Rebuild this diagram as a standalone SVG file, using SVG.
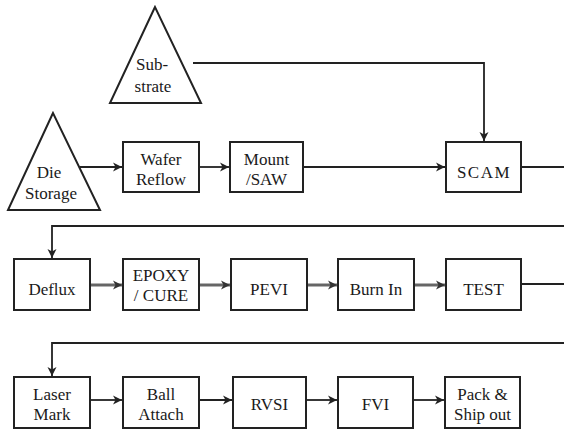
<svg xmlns="http://www.w3.org/2000/svg" width="564" height="430" viewBox="0 0 564 430">
<style>
  .box { fill: #fff; stroke: #222; stroke-width: 2; }
  .tri { fill: #fff; stroke: #222; stroke-width: 2; stroke-linejoin: miter; }
  .t { font-size: 17px; fill: #1a1a1a; text-anchor: middle; }
  .c { fill: none; stroke: #222; stroke-width: 1.8; }
  .cg { fill: none; stroke: #666; stroke-width: 3; }
</style>
<defs>
  <marker id="ah" markerUnits="userSpaceOnUse" markerWidth="10" markerHeight="10" refX="9" refY="5" orient="auto">
    <path d="M0,0.5 L9,5 L0,9.5 L2.5,5 z" fill="#222"/>
  </marker>
  <marker id="ahg" markerUnits="userSpaceOnUse" markerWidth="10" markerHeight="10" refX="9" refY="5" orient="auto">
    <path d="M0,0.5 L9,5 L0,9.5 L2.5,5 z" fill="#333"/>
  </marker>
</defs>
<rect width="564" height="430" fill="#fff"/>

<g id="connectors">
  <polyline class="c" points="193,63 484,63 484,141" marker-end="url(#ah)"/>
  <line class="c" x1="80" y1="167" x2="122" y2="167" marker-end="url(#ah)"/>
  <line class="c" x1="199" y1="167" x2="229" y2="167" marker-end="url(#ah)"/>
  <line class="c" x1="303" y1="167" x2="445" y2="167" marker-end="url(#ah)"/>
  <line class="c" x1="521" y1="167" x2="564" y2="167"/>
  <polyline class="c" points="564,226 52,226 52,258" marker-end="url(#ah)"/>
  <line class="cg" x1="90" y1="285" x2="122" y2="285" marker-end="url(#ahg)"/>
  <line class="cg" x1="199" y1="285" x2="230" y2="285" marker-end="url(#ahg)"/>
  <line class="cg" x1="307" y1="285" x2="337" y2="285" marker-end="url(#ahg)"/>
  <line class="cg" x1="414" y1="285" x2="445" y2="285" marker-end="url(#ahg)"/>
  <line class="c" x1="521" y1="284" x2="564" y2="284"/>
  <polyline class="c" points="564,343 52,343 52,376" marker-end="url(#ah)"/>
  <line class="c" x1="90" y1="400" x2="122" y2="400" marker-end="url(#ah)"/>
  <line class="c" x1="199" y1="400" x2="232" y2="400" marker-end="url(#ah)"/>
  <line class="c" x1="306" y1="400" x2="337" y2="400" marker-end="url(#ah)"/>
  <line class="c" x1="413" y1="400" x2="444" y2="400" marker-end="url(#ah)"/>
</g>

<g id="nodes" font-family="Liberation Serif, serif">
<g id="substrate">
  <polygon class="tri" points="155,7 110,103 201,103"/>
  <text class="t" x="152" y="70">Sub-</text>
  <text class="t" x="153" y="92">strate</text>
</g>
<g id="die-storage">
  <polygon class="tri" points="53,113 8,210 100,210"/>
  <text class="t" x="49" y="178">Die</text>
  <text class="t" x="51" y="199">Storage</text>
</g>
<g id="wafer-reflow">
  <rect class="box" x="123" y="142" width="76" height="50"/>
  <text class="t" x="161" y="165">Wafer</text>
  <text class="t" x="161" y="185">Reflow</text>
</g>
<g id="mount-saw">
  <rect class="box" x="230" y="142" width="73" height="50"/>
  <text class="t" x="266.5" y="165">Mount</text>
  <text class="t" x="266.5" y="185">/SAW</text>
</g>
<g id="scam">
  <rect class="box" x="446" y="142" width="75" height="50"/>
  <text class="t" x="484" y="178" letter-spacing="1.5">SCAM</text>
</g>
<g id="deflux">
  <rect class="box" x="14" y="259" width="76" height="51"/>
  <text class="t" x="52" y="295">Deflux</text>
</g>
<g id="epoxy-cure">
  <rect class="box" x="123" y="259" width="76" height="51"/>
  <text class="t" x="161" y="281" font-size="16">EPOXY</text>
  <text class="t" x="161" y="301" font-size="16">/ CURE</text>
</g>
<g id="pevi">
  <rect class="box" x="231" y="259" width="76" height="51"/>
  <text class="t" x="269" y="295">PEVI</text>
</g>
<g id="burn-in">
  <rect class="box" x="338" y="259" width="76" height="51"/>
  <text class="t" x="376" y="295">Burn In</text>
</g>
<g id="test">
  <rect class="box" x="446" y="259" width="75" height="51"/>
  <text class="t" x="483.5" y="295">TEST</text>
</g>
<g id="laser-mark">
  <rect class="box" x="14" y="377" width="76" height="51"/>
  <text class="t" x="52" y="400">Laser</text>
  <text class="t" x="52" y="420">Mark</text>
</g>
<g id="ball-attach">
  <rect class="box" x="123" y="377" width="76" height="51"/>
  <text class="t" x="161" y="400">Ball</text>
  <text class="t" x="161" y="420">Attach</text>
</g>
<g id="rvsi">
  <rect class="box" x="233" y="377" width="73" height="51"/>
  <text class="t" x="269.5" y="410">RVSI</text>
</g>
<g id="fvi">
  <rect class="box" x="338" y="377" width="75" height="51"/>
  <text class="t" x="375.5" y="410">FVI</text>
</g>
<g id="pack-ship">
  <rect class="box" x="445" y="377" width="75" height="51"/>
  <text class="t" x="482.5" y="400">Pack &amp;</text>
  <text class="t" x="482.5" y="420">Ship out</text>
</g>
</g>
</svg>
